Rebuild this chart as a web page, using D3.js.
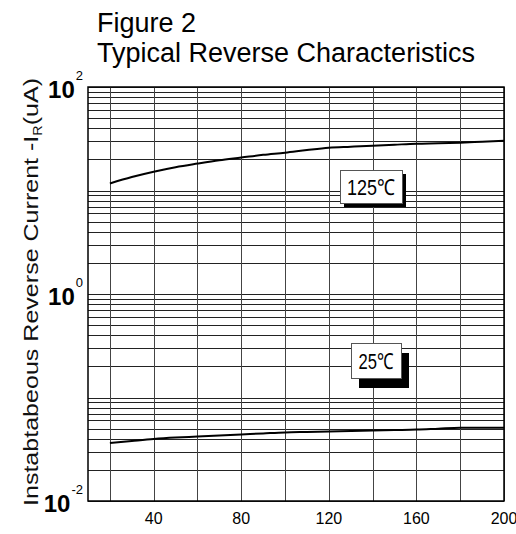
<!DOCTYPE html>
<html>
<head>
<meta charset="utf-8">
<script src="https://cdn.jsdelivr.net/npm/d3@7"></script>
<style>
  body { margin: 0; background: #fff; }
  text { font-family: "Liberation Sans", Arial, sans-serif; }
</style>
</head>
<body>
<div id="chart-area"></div>
<script>
// data
let voltage = [20, 30, 40, 50, 60, 70, 80, 90, 100, 110, 120, 130, 140, 150, 160, 170, 180, 190, 200];
let current125 = [11.7, 13.5, 15.2, 16.8, 18.2, 19.6, 20.8, 22.1, 23.2, 24.6, 25.9, 26.5, 27.1, 27.7, 28.3, 28.6, 29.0, 29.6, 30.2];
let current25 = [0.0363, 0.038, 0.0397, 0.041, 0.042, 0.043, 0.044, 0.045, 0.046, 0.0465, 0.047, 0.0475, 0.048, 0.0485, 0.049, 0.050, 0.051, 0.051, 0.051];
let xGrid = [20, 40, 60, 80, 100, 120, 140, 160, 180, 200];
let xLabels = [40, 80, 120, 160, 200];
let yExponents = [2, 0, -2];
let tempLabels = [
  { text: '125\u2103', x: 125, y: 15.8, w: 62, h: 33, dx: 4, dy: 4, tl: 48 },
  { text: '25\u2103', x: 130, y: 0.336, w: 50, h: 35, dx: 8, dy: 10, tl: 35 }
];

//************* Canvas Set Up *************//
let margin = { left: 88, right: 12, top: 87, bottom: 33 };
let width = 516 - margin.left - margin.right;
let height = 534 - margin.top - margin.bottom;

let svg = d3.select('#chart-area').append('svg')
  .attr('width', 516)
  .attr('height', 534);

let g = svg.append('g')
  .attr('transform', 'translate(' + margin.left + ', ' + margin.top + ')');

let x = d3.scaleLinear().domain([10, 200]).range([0, width]);
let y = d3.scaleLog().domain([0.01, 100]).range([height, 0]);

// titles
svg.append('text')
  .attr('x', 97).attr('y', 32)
  .attr('font-size', '27px')
  .text('Figure 2');
svg.append('text')
  .attr('x', 97).attr('y', 62)
  .attr('font-size', '27px')
  .text('Typical Reverse Characteristics');

// y axis title
let yTitle = svg.append('text')
  .attr('transform', 'translate(38, 292) rotate(-90)')
  .attr('text-anchor', 'middle')
  .attr('font-size', '21px')
  .attr('textLength', 428)
  .attr('lengthAdjust', 'spacingAndGlyphs')
  .attr('fill', '#111');
yTitle.append('tspan').text('Instabtabeous Reverse Current -I');
yTitle.append('tspan').attr('font-size', '12px').attr('dy', 4).text('R');
yTitle.append('tspan').attr('dy', -4).text('(uA)');

//************* Grid *************//
g.selectAll('.h-grid')
  .data(y.ticks())
  .enter().append('line')
    .attr('class', 'h-grid')
    .attr('x1', 0).attr('x2', width)
    .attr('y1', d => Math.round(y(d)) + 0.5)
    .attr('y2', d => Math.round(y(d)) + 0.5)
    .attr('stroke', '#222')
    .attr('stroke-width', 1);

g.selectAll('.v-grid')
  .data(xGrid)
  .enter().append('line')
    .attr('class', 'v-grid')
    .attr('x1', d => Math.round(x(d)) + 0.5)
    .attr('x2', d => Math.round(x(d)) + 0.5)
    .attr('y1', 0).attr('y2', height)
    .attr('stroke', '#444')
    .attr('stroke-width', 1);

g.append('rect')
  .attr('x', 0).attr('y', 0)
  .attr('width', width).attr('height', height)
  .attr('fill', 'none')
  .attr('stroke', '#000')
  .attr('stroke-width', 1.5);

//************* Axis labels *************//
g.selectAll('.x-label')
  .data(xLabels)
  .enter().append('text')
    .attr('class', 'x-label')
    .attr('x', d => x(d))
    .attr('y', height + 23)
    .attr('text-anchor', 'middle')
    .attr('font-size', '16px')
    .text(d => d);

let yLab = g.selectAll('.y-label')
  .data(yExponents)
  .enter().append('text')
    .attr('class', 'y-label')
    .attr('x', -5)
    .attr('y', d => y(Math.pow(10, d)) + 11)
    .attr('text-anchor', 'end')
    .attr('font-weight', 'bold')
    .attr('font-size', '24px');
yLab.append('tspan').text('10');
yLab.append('tspan')
  .attr('font-size', '13px')
  .attr('font-weight', 'normal')
  .attr('dx', 1)
  .attr('dy', -18)
  .text(d => d);

//************* Curves *************//
let line125 = d3.line()
  .x((d, i) => x(voltage[i]))
  .y(d => y(d))
  .curve(d3.curveMonotoneX);

g.append('path')
  .attr('d', line125(current125))
  .attr('fill', 'none')
  .attr('stroke', '#000')
  .attr('stroke-width', 2);

g.append('path')
  .attr('d', line125(current25))
  .attr('fill', 'none')
  .attr('stroke', '#000')
  .attr('stroke-width', 2);

//************* Temperature labels *************//
let tl = g.selectAll('.temp')
  .data(tempLabels)
  .enter().append('g')
    .attr('class', 'temp')
    .attr('transform', d => 'translate(' + Math.round(x(d.x)) + ',' + Math.round(y(d.y)) + ')');
tl.append('rect')
  .attr('x', d => d.dx).attr('y', d => d.dy)
  .attr('width', d => d.w).attr('height', d => d.h)
  .attr('fill', '#000');
tl.append('rect')
  .attr('x', 0.5).attr('y', 0.5)
  .attr('width', d => d.w).attr('height', d => d.h)
  .attr('fill', '#fff')
  .attr('stroke', '#555')
  .attr('stroke-width', 1);
tl.append('text')
  .attr('x', d => d.w / 2)
  .attr('y', d => d.h / 2 + 8)
  .attr('text-anchor', 'middle')
  .attr('font-size', '22px')
  .attr('textLength', d => d.tl)
  .attr('lengthAdjust', 'spacingAndGlyphs')
  .text(d => d.text);
</script>
</body>
</html>
